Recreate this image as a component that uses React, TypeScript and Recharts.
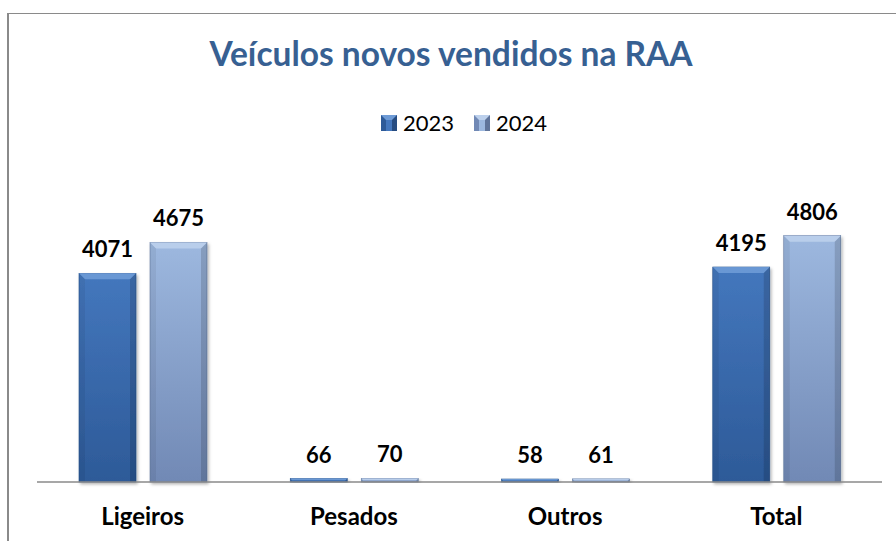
import React from "react";
import { BarChart, Bar, XAxis, YAxis, LabelList } from "recharts";

const categories = ["Ligeiros", "Pesados", "Outros", "Total"];
const values2023 = [4071, 66, 58, 4195];
const values2024 = [4675, 70, 61, 4806];
const seriesNames = ["2023", "2024"];

const data = categories.map((c, i) => ({
  name: c,
  y2023: values2023[i],
  y2024: values2024[i],
}));

const FONT = "Lato, 'Open Sans', sans-serif";

const palettes: Record<string, { top: string; bottom: string; bevel: string; edge: string }> = {
  y2023: { top: "#4477BD", bottom: "#2D5A98", bevel: "#6E9BD6", edge: "#26508A" },
  y2024: { top: "#9DB8DF", bottom: "#7189B5", bevel: "#BCD0EC", edge: "#62799F" },
};

const BevelBar = (props: any) => {
  const { x, y, width, height, dataKey } = props;
  if (height == null || width == null || height <= 0) return null;
  const p = palettes[dataKey] || palettes.y2023;
  const b = Math.min(6, height / 2, width / 4);
  return (
    <g filter="url(#barShadow)">
      <rect x={x} y={y} width={width} height={height} fill={`url(#grad_${dataKey})`} stroke={p.edge} strokeWidth={0.6} />
      <polygon
        points={`${x},${y} ${x + width},${y} ${x + width - b},${y + b} ${x + b},${y + b}`}
        fill={p.bevel}
        opacity={0.9}
      />
      <polygon
        points={`${x},${y} ${x + b},${y + b} ${x + b},${y + height} ${x},${y + height}`}
        fill="#000"
        opacity={0.06}
      />
      <polygon
        points={`${x + width},${y} ${x + width - b},${y + b} ${x + width - b},${y + height} ${x + width},${y + height}`}
        fill="#000"
        opacity={0.14}
      />
    </g>
  );
};

const LegendSquare = ({ k }: { k: string }) => {
  const p = palettes[k];
  return (
    <svg width={16} height={16} style={{ display: "inline-block", verticalAlign: "middle" }}>
      <rect x={0} y={0} width={16} height={16} fill={p.bottom} />
      <polygon points="0,0 16,0 11,5 5,5" fill={p.bevel} />
      <polygon points="5,5 11,5 11,16 5,16" fill={p.top} />
      <polygon points="16,0 11,5 11,16 16,16" fill="#000" opacity={0.15} />
    </svg>
  );
};

export default function App() {
  return (
    <div style={{ position: "absolute", left: 0, top: 0, width: 896, height: 541, background: "#fff", overflow: "hidden" }}>
      <div
        style={{
          position: "absolute",
          left: 7,
          top: 13,
          width: 889,
          height: 528,
          borderLeft: "2px solid #8a8a8a",
          borderTop: "1.5px solid #8a8a8a",
        }}
      />
      <div
        style={{
          position: "absolute",
          left: 0,
          top: 33,
          width: 902,
          textAlign: "center",
          fontFamily: FONT,
          fontWeight: 700,
          fontSize: 33.5,
          color: "#376092",
        }}
      >
        Veículos novos vendidos na RAA
      </div>
      <div
        style={{
          position: "absolute",
          left: 0,
          top: 109,
          width: 928,
          display: "flex",
          justifyContent: "center",
          alignItems: "center",
          fontFamily: FONT,
          fontSize: 22,
          color: "#000",
        }}
      >
        {["y2023", "y2024"].map((k, i) => (
          <span key={k} style={{ display: "inline-flex", alignItems: "center", marginRight: i === 0 ? 20 : 0 }}>
            <LegendSquare k={k} />
            <span style={{ marginLeft: 6 }}>{seriesNames[i]}</span>
          </span>
        ))}
      </div>
      <div style={{ position: "absolute", left: 0, top: 0 }}>
        <BarChart
          width={896}
          height={541}
          data={data}
          margin={{ top: 174.5, right: 14, bottom: 29, left: 37 }}
          barGap={14}
          barSize={57}
        >
          <defs>
            <linearGradient id="grad_y2023" x1="0" y1="0" x2="0" y2="1">
              <stop offset="0%" stopColor={palettes.y2023.top} />
              <stop offset="100%" stopColor={palettes.y2023.bottom} />
            </linearGradient>
            <linearGradient id="grad_y2024" x1="0" y1="0" x2="0" y2="1">
              <stop offset="0%" stopColor={palettes.y2024.top} />
              <stop offset="100%" stopColor={palettes.y2024.bottom} />
            </linearGradient>
            <filter id="barShadow" x="-20%" y="-10%" width="140%" height="130%">
              <feDropShadow dx="1.5" dy="2" stdDeviation="1.5" floodColor="#000" floodOpacity="0.3" />
            </filter>
          </defs>
          <XAxis
            dataKey="name"
            height={30}
            axisLine={{ stroke: "#8a8a8a", strokeWidth: 1.5 }}
            tickLine={false}
            tick={{ fontFamily: FONT, fontWeight: 700, fontSize: 24, fill: "#000" }}
            dy={18}
            interval={0}
          />
          <YAxis hide domain={[0, 6000]} />
          <Bar dataKey="y2023" name="2023" shape={<BevelBar />} isAnimationActive={false}>
            <LabelList
              dataKey="y2023"
              position="top"
              offset={16}
              style={{ fontFamily: FONT, fontWeight: 700, fontSize: 22, fill: "#000" }}
            />
          </Bar>
          <Bar dataKey="y2024" name="2024" shape={<BevelBar />} isAnimationActive={false}>
            <LabelList
              dataKey="y2024"
              position="top"
              offset={16}
              style={{ fontFamily: FONT, fontWeight: 700, fontSize: 22, fill: "#000" }}
            />
          </Bar>
        </BarChart>
      </div>
    </div>
  );
}
